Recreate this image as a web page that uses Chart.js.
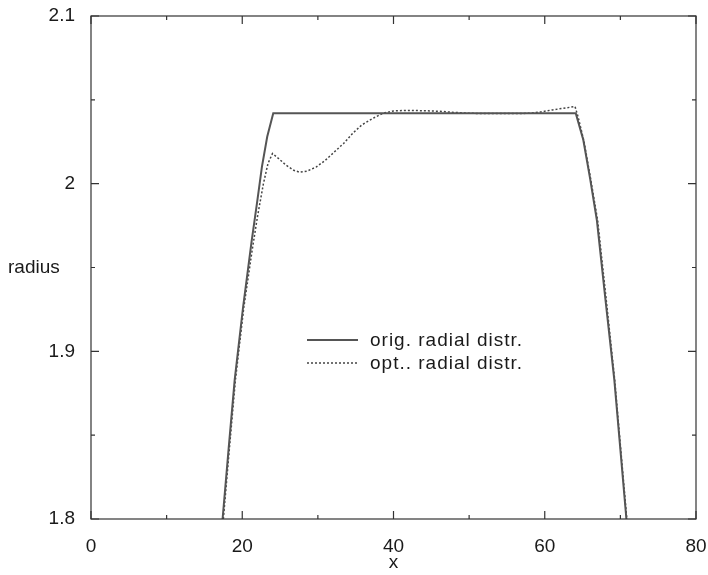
<!DOCTYPE html>
<html lang="en">
<head>
<meta charset="UTF-8">
<title>radius vs x</title>
<script src="https://cdn.jsdelivr.net/npm/chart.js"></script>
<style>
  html, body { margin: 0; padding: 0; background: #fff; }
  #wrap { width: 708px; height: 575px; }
</style>
</head>
<body>
<div id="wrap"><canvas id="chart" width="708" height="575"></canvas></div>
<script>
// data
const origX = [17.4, 18.2, 19.0, 20.1, 21.25, 22.0, 22.6, 23.3, 24.1, 64.1, 65.1, 66.0, 66.9, 68.0, 69.2, 70.8];
const origY = [1.8, 1.842, 1.883, 1.926, 1.966, 1.990, 2.010, 2.028, 2.042, 2.042, 2.026, 2.003, 1.978, 1.932, 1.883, 1.8];

const optX = [17.5, 18.3, 19.1, 20.2, 21.3, 22.0, 22.8, 23.4, 24.0, 24.8, 25.8, 26.8, 27.6, 28.6, 29.8, 31.0,
  32.2, 33.4, 34.6, 35.8, 37.3, 38.6, 40.0, 42, 44, 46, 48, 50, 52, 54, 56, 58, 59.5, 61, 62.5, 64.0,
  64.4, 65.2, 66.1, 67.0, 68.1, 69.25, 70.85];
const optY = [1.8, 1.842, 1.883, 1.926, 1.96, 1.98, 2.0, 2.012, 2.018, 2.015, 2.011, 2.008, 2.0068, 2.0075, 2.010, 2.014,
  2.019, 2.024, 2.030, 2.035, 2.039, 2.042, 2.0434, 2.0437, 2.0435, 2.0432, 2.0425, 2.042, 2.0418, 2.0418, 2.0418, 2.042, 2.0428, 2.044, 2.045, 2.046,
  2.040, 2.025, 2.002, 1.978, 1.932, 1.883, 1.8];

const seriesNames = ['orig. radial distr.', 'opt.. radial distr.'];
const xLabelTicks = [0, 20, 40, 60, 80];
const yLabelTicks = [1.8, 1.9, 2.0, 2.1];

const FONT = '"Liberation Sans", Arial, sans-serif';
const TXT = '#1a1a1a';

function pts(xs, ys) {
  return xs.map((x, i) => ({ x: x, y: ys[i] }));
}

// frame, inward ticks, axis titles and the in-plot legend
const frameAndLegend = {
  id: 'frameAndLegend',
  afterDraw(chart) {
    const { ctx, chartArea: a, scales: { x, y } } = chart;
    ctx.save();
    ctx.strokeStyle = '#333';
    ctx.lineWidth = 1.2;
    ctx.strokeRect(a.left, a.top, a.right - a.left, a.bottom - a.top);

    ctx.beginPath();
    for (let v = 0; v <= 80; v += 10) {
      const px = x.getPixelForValue(v);
      const len = v % 20 === 0 ? 8 : 4;
      ctx.moveTo(px, a.bottom); ctx.lineTo(px, a.bottom - len);
      ctx.moveTo(px, a.top); ctx.lineTo(px, a.top + len);
    }
    for (let k = 0; k <= 6; k++) {
      const v = 1.8 + k * 0.05;
      const py = y.getPixelForValue(v);
      const len = k % 2 === 0 ? 8 : 4;
      ctx.moveTo(a.left, py); ctx.lineTo(a.left + len, py);
      ctx.moveTo(a.right, py); ctx.lineTo(a.right - len, py);
    }
    ctx.stroke();

    // axis titles
    ctx.fillStyle = TXT;
    ctx.font = '19px ' + FONT;
    ctx.textBaseline = 'middle';
    ctx.textAlign = 'left';
    ctx.fillText('radius', 8, 268);
    ctx.textAlign = 'center';
    ctx.fillText('x', (a.left + a.right) / 2, 563);

    // legend
    const rows = [340, 363];
    ctx.letterSpacing = '1px';
    chart.data.datasets.forEach((ds, i) => {
      ctx.beginPath();
      ctx.strokeStyle = ds.borderColor;
      ctx.lineWidth = ds.borderWidth;
      ctx.setLineDash(ds.borderDash || []);
      ctx.moveTo(307, rows[i]);
      ctx.lineTo(358, rows[i]);
      ctx.stroke();
      ctx.setLineDash([]);
      ctx.textAlign = 'left';
      ctx.fillText(ds.label, 370, rows[i] + 1);
    });
    ctx.restore();
  }
};

new Chart(document.getElementById('chart'), {
  type: 'scatter',
  data: {
    datasets: [
      {
        label: seriesNames[0],
        data: pts(origX, origY),
        showLine: true,
        borderColor: '#555',
        borderWidth: 2,
        pointRadius: 0,
        tension: 0
      },
      {
        label: seriesNames[1],
        data: pts(optX, optY),
        showLine: true,
        borderColor: '#444',
        borderWidth: 1.5,
        borderDash: [2, 2],
        pointRadius: 0,
        tension: 0
      }
    ]
  },
  options: {
    responsive: false,
    animation: false,
    layout: { padding: { left: 0, top: 16, right: 12, bottom: 0 } },
    plugins: { legend: { display: false }, tooltip: { enabled: false } },
    scales: {
      x: {
        type: 'linear',
        min: 0, max: 80,
        afterFit(s) { s.height = 56; s.paddingLeft = 0; s.paddingRight = 0; },
        afterBuildTicks(s) { s.ticks = xLabelTicks.map(v => ({ value: v })); },
        grid: { drawOnChartArea: false, drawTicks: false },
        border: { display: false },
        ticks: {
          padding: 16,
          color: TXT,
          font: { family: FONT, size: 19 },
          maxRotation: 0,
          callback: v => String(v)
        }
      },
      y: {
        type: 'linear',
        min: 1.8, max: 2.1,
        afterFit(s) { s.width = 91; s.paddingTop = 0; s.paddingBottom = 0; },
        afterBuildTicks(s) { s.ticks = yLabelTicks.map(v => ({ value: v })); },
        grid: { drawOnChartArea: false, drawTicks: false },
        border: { display: false },
        ticks: {
          padding: 16,
          color: TXT,
          font: { family: FONT, size: 19 },
          callback: v => String(Math.round(v * 10) / 10)
        }
      }
    }
  },
  plugins: [frameAndLegend]
});
</script>
</body>
</html>
